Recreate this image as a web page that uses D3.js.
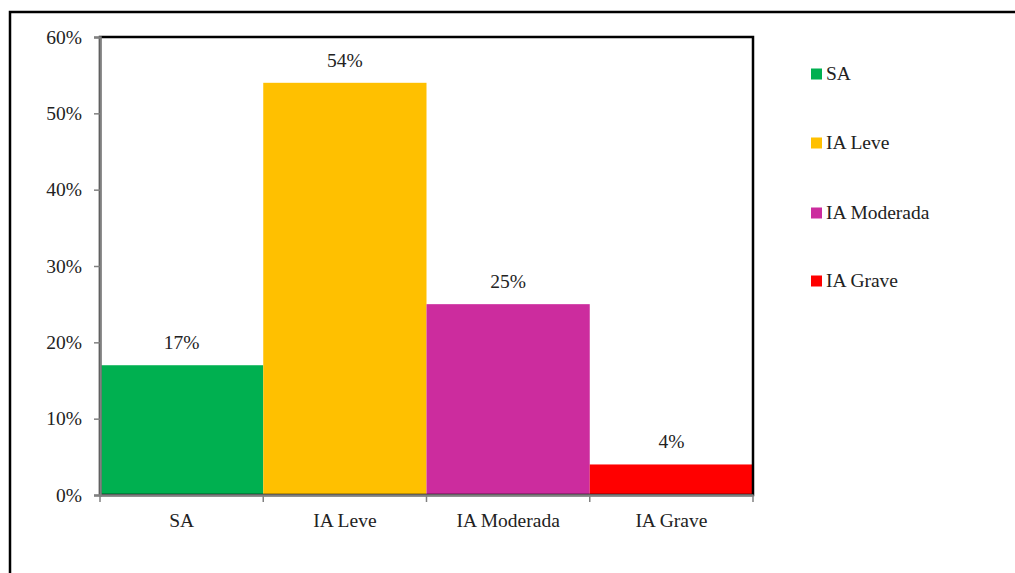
<!DOCTYPE html>
<html><head><meta charset="utf-8">
<script src="https://cdn.jsdelivr.net/npm/d3@7"></script>
<style>body{margin:0;background:#fff}svg{display:block}</style>
</head><body><svg id="c" width="1015" height="573"></svg>
<script>
const categories = ["SA","IA Leve","IA Moderada","IA Grave"];
const values = [17,54,25,4];
const colors = ["#00B050","#FFC000","#CC2C9E","#FF0000"];
const yTicks = [0,10,20,30,40,50,60];

(function(){
const FONT = "'Liberation Serif', 'Times New Roman', 'DejaVu Serif', serif";
const FS = "19.5px";
const svg = d3.select("#c");
const pL = 100, pR = 753, pT = 37, pB = 495;
const x = d3.scaleBand().domain(categories).range([pL,pR]).padding(0);
const y = d3.scaleLinear().domain([0,60]).range([pB,pT]);

svg.append("rect").attr("x",10).attr("y",12).attr("width",1015).attr("height",600)
  .attr("fill","none").attr("stroke","#000").attr("stroke-width",2.5);

svg.selectAll("rect.bar").data(values).join("rect").attr("class","bar")
  .attr("x",(d,i)=>x(categories[i])).attr("width",x.bandwidth())
  .attr("y",d=>y(d)).attr("height",d=>pB-y(d)).attr("fill",(d,i)=>colors[i]);

svg.append("rect").attr("x",pL).attr("y",pT).attr("width",pR-pL).attr("height",pB-pT)
  .attr("fill","none").attr("stroke","#000").attr("stroke-width",2.5);

const ya = svg.append("g").attr("transform",`translate(${pL},0)`)
  .call(d3.axisLeft(y).tickValues(yTicks).tickFormat(d=>d+"%").tickSize(6).tickPadding(12));
ya.attr("font-family",null).attr("font-size",null);
ya.select(".domain").attr("stroke","#808080").attr("stroke-width",2.5);
ya.selectAll(".tick line").attr("stroke","#808080").attr("stroke-width",1.5);
ya.selectAll("text").style("font-family",FONT).style("font-size",FS).attr("fill","#222");

const xa = svg.append("g").attr("transform",`translate(0,${pB})`)
  .call(d3.axisBottom(x).tickSize(0).tickPadding(18));
xa.attr("font-family",null).attr("font-size",null);
xa.select(".domain").attr("stroke","#808080").attr("stroke-width",2.5);
xa.selectAll("text").style("font-family",FONT).style("font-size",FS).attr("fill","#222");
const bounds = categories.map(c=>x(c)).concat([pR]);
svg.selectAll("line.xt").data(bounds).join("line").attr("class","xt")
  .attr("x1",d=>d).attr("x2",d=>d).attr("y1",pB).attr("y2",pB+7)
  .attr("stroke","#808080").attr("stroke-width",1.5);

svg.selectAll("text.lbl").data(values).join("text").attr("class","lbl")
  .attr("x",(d,i)=>x(categories[i])+x.bandwidth()/2).attr("y",d=>y(d)-16)
  .attr("text-anchor","middle").style("font-family",FONT).style("font-size",FS)
  .attr("fill","#222").text(d=>d+"%");

const legY = [74,143,213,281];
const lg = svg.selectAll("g.leg").data(categories).join("g").attr("class","leg")
  .attr("transform",(d,i)=>`translate(811,${legY[i]})`);
lg.append("rect").attr("x",0).attr("y",-5.5).attr("width",11).attr("height",11).attr("fill",(d,i)=>colors[i]);
lg.append("text").attr("x",15).attr("y",6).style("font-family",FONT).style("font-size",FS)
  .attr("fill","#222").text(d=>d);
})();
</script></body></html>
